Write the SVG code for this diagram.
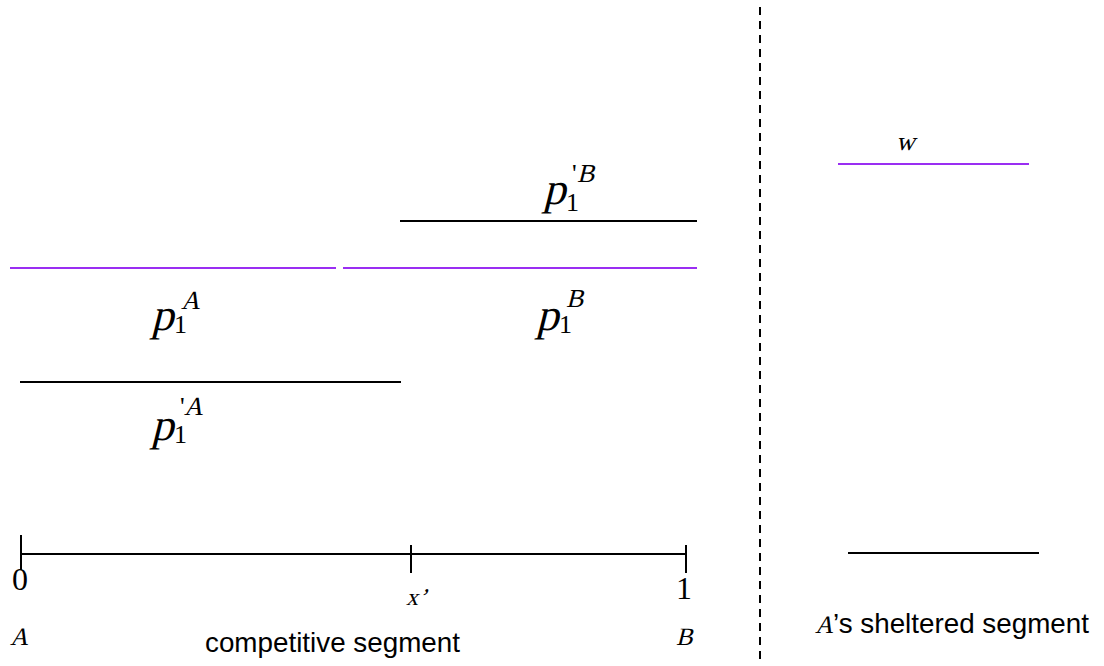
<svg xmlns="http://www.w3.org/2000/svg" width="1104" height="666" viewBox="0 0 1104 666">
<style>
.blk{stroke:#000;stroke-width:2;fill:none}
.pur{stroke:#9a2ef2;stroke-width:2;fill:none}
.dash{stroke:#000;stroke-width:2;stroke-dasharray:8 6;fill:none}
.tm{font-family:"Liberation Serif","Times New Roman",serif;font-style:normal;fill:#000}
.p{font-size:45px}
.sub{font-size:26px}
.sup{font-size:26px}
.num{font-size:32px}
.sans{font-family:"Liberation Sans",Arial,sans-serif;font-size:27.8px;fill:#000}
</style>
<rect width="1104" height="666" fill="#fff"/>
<g id="connectors">
<line class="blk" x1="400" y1="221" x2="697" y2="221"/>
<line class="pur" x1="10" y1="268" x2="336" y2="268"/>
<line class="pur" x1="343" y1="268" x2="697" y2="268"/>
<line class="blk" x1="20" y1="382" x2="401" y2="382"/>
<line class="blk" x1="21" y1="554" x2="686" y2="554"/>
<line class="blk" x1="21" y1="535" x2="21" y2="570"/>
<line class="blk" x1="411" y1="545" x2="411" y2="573"/>
<line class="blk" x1="686" y1="545" x2="686" y2="573"/>
<line class="dash" x1="760" y1="7" x2="760" y2="660"/>
<line class="pur" x1="838" y1="164" x2="1029" y2="164"/>
<line class="blk" x1="848" y1="553" x2="1039" y2="553"/>
</g>
<g id="label-p1pB">
<text class="tm p" transform="translate(543,204) skewX(-14)">p</text>
<text class="tm sub" x="566" y="211">1</text>
<text class="tm sub" x="572" y="182">'</text>
<text class="tm sup" transform="translate(577,182) skewX(-14)">B</text>
</g>
<g id="label-p1A">
<text class="tm p" transform="translate(151,330) skewX(-14)">p</text>
<text class="tm sub" x="174" y="333">1</text>
<text class="tm sup" transform="translate(181,309) skewX(-14)">A</text>
</g>
<g id="label-p1B">
<text class="tm p" transform="translate(536,330) skewX(-14)">p</text>
<text class="tm sub" x="559" y="333">1</text>
<text class="tm sup" transform="translate(566,307) skewX(-14)">B</text>
</g>
<g id="label-p1pA">
<text class="tm p" transform="translate(151,440) skewX(-14)">p</text>
<text class="tm sub" x="174" y="443">1</text>
<text class="tm sub" x="180" y="415">'</text>
<text class="tm sup" transform="translate(184,415) skewX(-14)">A</text>
</g>
<g id="label-w">
<text class="tm" font-size="26" transform="translate(896,150) skewX(-14)">w</text>
</g>
<g id="axis-labels">
<text class="tm num" x="12" y="590">0</text>
<text class="tm num" x="676" y="599">1</text>
<text class="tm" font-size="24" transform="translate(406,605) skewX(-14)">x</text>
<text class="tm" font-size="24" transform="translate(419,605) skewX(-14)">’</text>
<text class="tm" font-size="25" transform="translate(10,645) skewX(-14)">A</text>
<text class="tm" font-size="25" transform="translate(676,645) skewX(-14)">B</text>
</g>
<g id="label-competitive">
<text class="sans" x="205" y="652">competitive segment</text>
</g>
<g id="label-sheltered">
<text class="tm" font-size="25" transform="translate(815,633) skewX(-14)">A</text>
<text class="sans" x="833" y="633">’s sheltered segment</text>
</g>
</svg>
